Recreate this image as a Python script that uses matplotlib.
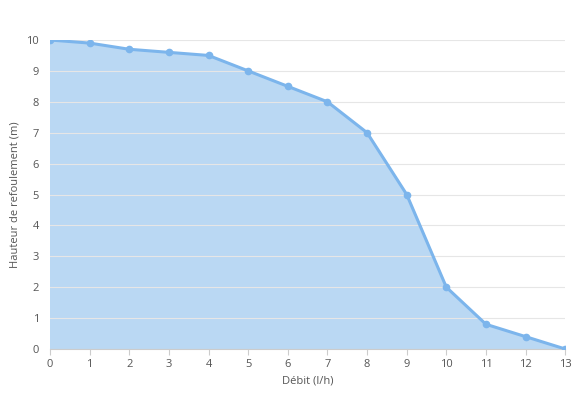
import matplotlib
matplotlib.use("Agg")
import matplotlib.pyplot as plt

debit = [0, 1, 2, 3, 4, 5, 6, 7, 8, 9, 10, 11, 12, 13]
hauteur = [10, 9.9, 9.7, 9.6, 9.5, 9, 8.5, 8, 7, 5, 2, 0.8, 0.4, 0]

plt.rcParams['font.family'] = ['Open Sans', 'DejaVu Sans']
fig = plt.figure(figsize=(5.75, 4), dpi=100)
ax = fig.add_axes([0.087, 0.1275, 0.896, 0.7725])

line_c = "#7cb5ec"
ax.fill_between(debit, hauteur, 0, color="#bad8f3", zorder=1)
ax.plot(debit, hauteur, color=line_c, lw=2.2, marker="o", ms=4.5, zorder=3)

ax.set_xlim(0, 13)
ax.set_ylim(0, 10)
ax.set_xticks(debit)
ax.set_yticks(range(11))
ax.grid(axis="y", color="#e6e6e6", lw=0.8, zorder=0)
for s in ["top", "right", "left"]:
    ax.spines[s].set_visible(False)
ax.spines["bottom"].set_color("#cccccc")
ax.tick_params(length=4, colors="#cccccc", labelcolor="#555555", labelsize=8)
ax.tick_params(axis="y", length=0, pad=8)
ax.set_xlabel("Débit (l/h)", fontsize=8, color="#555555")
ax.set_ylabel("Hauteur de refoulement (m)", fontsize=8, color="#555555")
fig.savefig("out.png", dpi=100)
